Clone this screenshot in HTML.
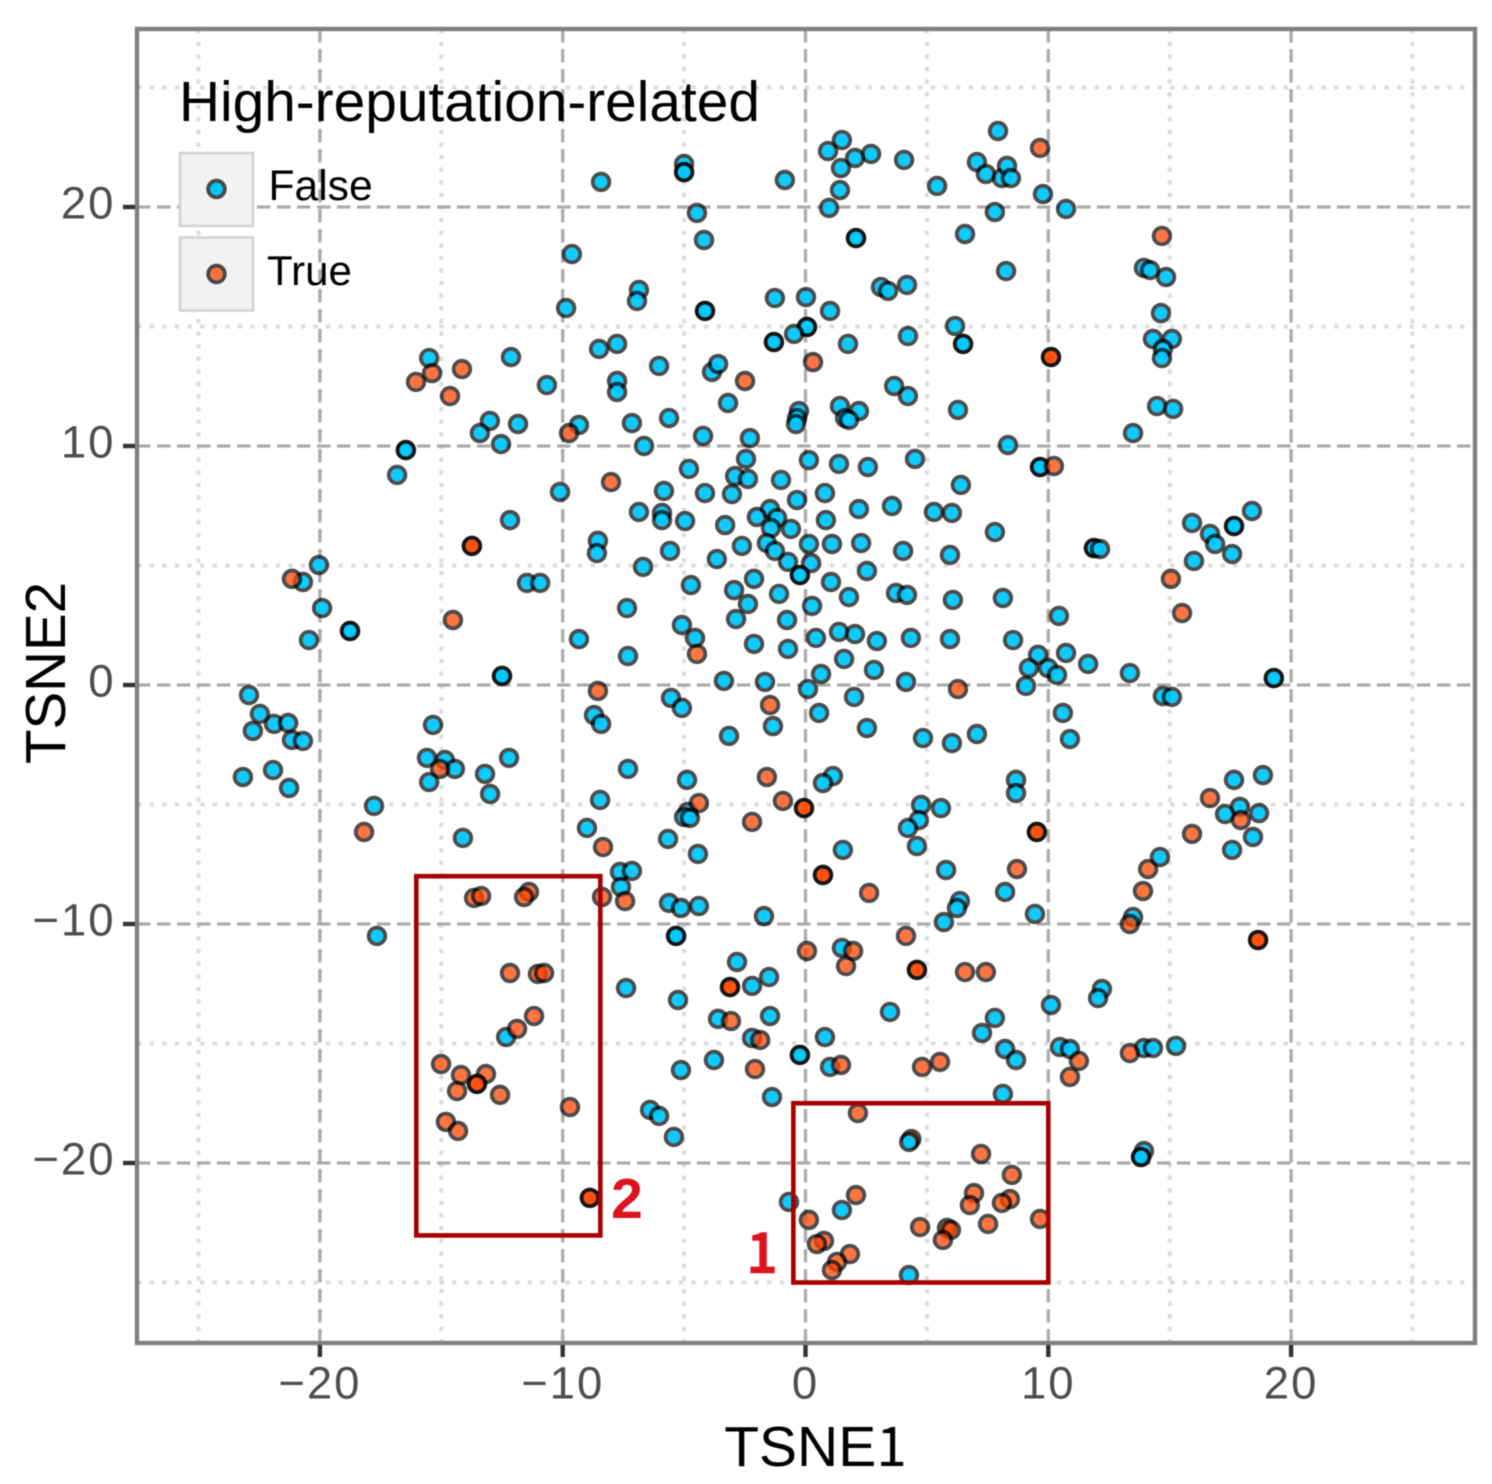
<!DOCTYPE html>
<html lang="en">
<head>
<meta charset="utf-8">
<title>t-SNE scatter: High-reputation-related</title>
<style>
html,body{margin:0;padding:0;background:#fff;}
svg{display:block;filter:blur(0.5px);}
text{font-family:"Liberation Sans","DejaVu Sans",sans-serif;}
</style>
</head>
<body>
<svg id="chart" xmlns="http://www.w3.org/2000/svg" width="1492" height="1484" viewBox="0 0 1492 1484">
  <rect x="0" y="0" width="1492" height="1484" fill="#ffffff"/>
  <g id="grid"></g>
  <g id="legend">
    <text x="179" y="121" font-size="56.800" fill="#000">High-reputation-related</text>
    <rect x="180" y="153" width="73" height="73" fill="#f2f2f2" stroke="#d2d2d2" stroke-width="2.5"/>
    <rect x="180" y="237.500" width="73" height="73" fill="#f2f2f2" stroke="#d2d2d2" stroke-width="2.5"/>
    <circle cx="216.500" cy="189" r="6.500" fill="#00c8ff"/>
    <circle cx="216.500" cy="189" r="8.300" fill="none" stroke="#000" stroke-opacity="0.7" stroke-width="3.8"/>
    <circle cx="216.500" cy="274" r="6.500" fill="#ff4500" fill-opacity="0.75"/>
    <circle cx="216.500" cy="274" r="8.300" fill="none" stroke="#000" stroke-opacity="0.7" stroke-width="3.8"/>
    <text x="268.500" y="200" font-size="42.600" fill="#000">False</text>
    <text x="267" y="285" font-size="42" fill="#000">True</text>
  </g>
  <g id="points"></g>
  <rect x="137" y="29" width="1338" height="1314" fill="none" stroke="#808080" stroke-width="4.4"/>
  <g id="axes"></g>
  <text x="815.500" y="1466" font-size="57" text-anchor="middle" fill="#000">TSNE<tspan style="font-family:'Noto Sans CJK SC',sans-serif" font-size="55">1</tspan></text>
  <text transform="translate(65,673) rotate(-90)" font-size="56.500" text-anchor="middle" fill="#000">TSNE2</text>
  <g id="annotations"></g>
  <text x="762" y="1272" font-size="54" text-anchor="middle" fill="#dd1420" stroke="#dd1420" stroke-width="2.6" style="font-family:'Noto Sans CJK SC',sans-serif;font-weight:400">1</text>
  <text x="627" y="1218" font-size="57" font-weight="700" text-anchor="middle" fill="#dd1420">2</text>
</svg>
<script>
const majorTicks = [-20, -10, 0, 10, 20];
const minorTicks = [-25, -15, -5, 5, 15, 25];
const regionBoxes = [[-0.5, 10, -17.5, -25], [-16.03, -8.45, -8, -23.03]];
const falsePoints = [
[1.50,22.80],[0.93,22.34],[2.04,22.05],[2.70,22.22],[1.46,21.63],[1.42,20.71],[0.97,19.96],[4.06,21.97],[5.42,20.88],[7.93,23.18],
[7.06,21.88],[7.43,21.38],[8.09,21.21],[8.30,21.72],[8.46,21.21],[7.80,19.79],[6.57,18.87],[9.78,20.54],[10.73,19.92],[8.26,17.32],
[-0.85,21.13],[-5.00,21.80],[-5.00,21.46],[-5.00,21.46],[-8.42,21.05],[-4.47,19.75],[-4.18,18.62],[2.08,18.70],[2.08,18.70],[-9.62,18.03],
[-9.86,15.77],[-6.86,16.53],[-6.94,16.07],[-4.14,15.65],[-4.14,15.65],[-1.26,16.19],[0.02,16.23],[1.01,15.65],[3.11,16.65],[3.40,16.49],
[4.18,16.74],[0.06,14.98],[0.06,14.98],[-0.47,14.69],[-1.30,14.35],[-1.30,14.35],[1.75,14.27],[4.22,14.60],[6.16,15.02],[6.49,14.27],[6.49,14.27],
[-8.50,14.06],[-7.76,14.27],[-6.03,13.35],[-12.13,13.72],[-15.50,13.68],[-10.65,12.55],[-7.76,12.72],[-7.76,12.26],[-3.85,13.10],[-3.60,13.43],
[-3.19,11.80],[3.65,12.51],[4.22,12.09],[1.42,11.67],[2.20,11.46],[-0.27,11.46],[-0.35,11.17],[-0.39,10.92],[1.63,11.17],[1.79,11.09],
[6.28,11.51],[-13.00,11.05],[-11.84,10.92],[-13.41,10.54],[-12.54,10.08],[-9.33,10.88],[-7.15,10.96],[-5.62,11.17],[-6.65,10.00],[-4.22,10.42],
[-2.29,10.33],[-2.45,9.46],[-4.80,9.04],[0.14,9.41],[1.38,9.25],[2.57,9.12],[4.51,9.46],[6.40,8.37],[8.34,10.04],[9.66,9.12],[9.66,9.12],
[-16.46,9.83],[-16.46,9.83],[-16.82,8.79],[-10.11,8.08],[-5.83,8.12],[-4.14,8.03],[-2.90,8.74],[-2.37,8.62],[-3.03,7.99],[-1.01,8.58],
[-0.35,7.74],[0.80,8.03],[2.20,7.36],[3.56,7.49],[5.29,7.24],[6.03,7.20],[7.80,6.40],[-12.17,6.90],[-6.86,7.24],[-5.91,7.20],[-5.91,6.90],
[-4.96,6.86],[-3.31,6.69],[0.84,6.90],[-1.46,7.36],[-2.00,7.03],[-1.17,6.99],[-1.42,6.57],[-0.60,6.53],[-5.58,5.61],[-3.65,5.27],
[-2.62,5.82],[-1.59,5.94],[-1.26,5.61],[-0.72,5.15],[0.14,5.90],[1.09,5.90],[2.29,5.94],[4.02,5.61],[0.23,5.10],[-0.23,4.60],[-0.23,4.60],
[1.05,4.31],[2.53,4.77],[-6.69,4.94],[-2.12,4.44],[-4.72,4.18],[-2.94,3.97],[-1.09,3.81],[-2.37,3.39],[-2.86,2.76],[-0.76,2.72],
[0.27,3.31],[1.79,3.68],[3.73,3.85],[4.18,3.77],[-5.09,2.51],[-4.55,1.97],[-2.12,1.72],[-0.72,1.51],[0.43,1.97],[1.38,2.22],
[2.04,2.13],[2.94,1.84],[4.34,1.97],[1.59,1.09],[2.82,0.63],[0.64,0.46],[-3.36,0.17],[-1.67,0.13],[0.10,-0.17],[4.14,0.13],
[2.00,-0.50],[-5.54,-0.54],[-5.09,-0.96],[0.56,-1.17],[-1.34,-1.72],[2.53,-1.80],[-3.15,-2.13],[4.84,-2.22],
[-8.55,6.03],[-8.59,5.52],[-11.47,4.27],[-10.93,4.27],[-20.04,5.02],[-20.70,4.31],[-19.91,3.22],[-20.45,1.88],[-18.76,2.26],[-18.76,2.26],
[-9.33,1.92],[-7.35,3.22],[-7.31,1.21],[-12.50,0.38],[-12.50,0.38],[-22.92,-0.42],[-22.47,-1.21],[-22.76,-1.92],[-21.89,-1.63],[-21.31,-1.59],
[-21.15,-2.30],[-20.70,-2.34],[-21.93,-3.56],[-23.17,-3.85],[-21.27,-4.31],[-17.77,-5.06],[-15.34,-1.67],[-15.59,-3.05],[-14.85,-3.14],[-14.44,-3.51],
[-15.50,-4.06],[-13.20,-3.72],[-12.99,-4.56],[-12.21,-3.05],[-14.11,-6.40],[-17.65,-10.50],[-8.71,-1.26],[-8.42,-1.63],[-7.31,-3.51],[-8.46,-4.81],[-9.00,-5.98],
[10.44,2.89],[8.55,1.88],[5.95,1.92],[5.95,5.44],[6.07,3.56],[8.13,3.64],[11.88,5.73],[11.88,5.73],[12.13,5.69],[9.58,1.26],[9.20,0.71],[9.99,0.71],
[10.36,0.42],[10.73,1.34],[11.64,0.88],[9.08,-0.04],[13.36,0.50],[19.29,0.29],[19.29,0.29],[14.72,-0.46],[15.09,-0.50],[10.60,-1.17],[10.89,-2.26],
[7.06,-2.05],[6.03,-2.43],[8.67,-3.97],[8.67,-4.52],[4.76,-5.02],[4.67,-5.65],[4.22,-5.98],[4.59,-6.74],[5.58,-5.15],[5.79,-7.74],
[6.36,-9.04],[6.24,-9.33],[5.70,-9.92],[8.22,-8.66],[9.45,-9.58],[1.54,-6.90],[1.13,-3.81],[0.72,-4.10],[-4.88,-3.97],[-4.84,-5.31],
[-5.00,-5.52],[-4.76,-5.56],[-5.66,-6.44],[-4.43,-7.07],[-7.64,-7.82],[-7.15,-7.78],[-7.60,-8.45],[-5.62,-9.12],[-5.13,-9.33],[-4.39,-9.25],
[-5.33,-10.50],[-5.33,-10.50],[-1.71,-9.67],[-7.39,-12.68],[-5.25,-13.18],[-2.82,-11.59],[-2.20,-12.59],[-1.50,-12.22],[-1.46,-13.85],[-3.60,-13.97],
[-2.20,-14.77],[-3.77,-15.69],[-5.13,-16.11],[-0.23,-15.48],[-0.23,-15.48],[0.80,-14.73],[1.01,-15.98],[1.50,-11.00],[3.48,-13.68],[10.11,-13.39],
[12.21,-12.72],[12.05,-13.10],[7.80,-13.93],[7.27,-14.56],[8.22,-15.23],[8.67,-15.69],[10.48,-15.15],[10.89,-15.23],[13.94,-15.19],[14.31,-15.19],
[15.26,-15.10],[8.13,-17.11],[-1.38,-17.24],[-6.40,-17.78],[-6.03,-18.03],[-5.42,-18.91],[-0.68,-21.63],[1.50,-21.97],[4.26,-24.69],
[13.94,-19.50],[13.82,-19.75],[13.82,-19.75],[13.49,10.54],[13.94,17.45],[14.19,17.36],[14.85,17.07],[14.64,15.56],[14.31,14.48],[15.09,14.48],
[14.72,14.06],[14.68,13.68],[14.48,11.67],[15.14,11.55],[15.92,6.78],[16.66,6.32],[16.87,5.90],[17.65,6.65],[17.65,6.65],[18.39,7.28],
[17.57,5.48],[16.00,5.19],[17.65,-3.97],[18.84,-3.77],[17.89,-5.10],[17.28,-5.40],[18.68,-5.36],[18.43,-6.36],[17.57,-6.90],[14.60,-7.20],
[13.49,-9.71],[-12.33,-14.73],[4.27,-19.12]
];
const truePoints = [
[9.66,22.47],[14.68,18.79],[0.31,13.51],[10.11,13.72],[10.11,13.72],[-16.04,12.68],[-15.38,13.05],[-14.15,13.22],[-14.64,12.09],[-9.74,10.54],
[-2.49,12.72],[-8.01,8.49],[10.23,9.16],[-13.74,5.82],[-13.74,5.82],[-21.15,4.44],[-14.52,2.72],[15.05,4.44],[15.51,3.01],[-4.47,1.30],
[-8.55,-0.25],[6.28,-0.17],[-1.46,-0.84],[-1.59,-3.85],[-0.93,-4.85],[-0.06,-5.15],[-0.06,-5.15],[-2.20,-5.73],[-4.39,-4.94],[-15.05,-3.51],
[-18.18,-6.15],[-8.34,-6.78],[0.72,-7.95],[0.72,-7.95],[2.62,-8.70],[9.53,-6.15],[9.53,-6.15],[8.71,-7.70],[14.11,-7.70],[13.90,-8.62],[13.36,-10.00],
[17.93,-5.65],[16.66,-4.73],[15.92,-6.23],[18.64,-10.67],[18.64,-10.67],[4.14,-10.50],[0.06,-11.13],[1.96,-11.13],[1.67,-11.76],[4.59,-11.92],[4.59,-11.92],
[6.57,-12.01],[7.43,-12.01],[-3.11,-12.64],[-3.11,-12.64],[-3.07,-14.06],[-1.87,-14.85],[-2.08,-16.07],[1.46,-15.90],[4.80,-15.98],[5.54,-15.77],
[11.26,-15.73],[10.89,-16.40],[13.36,-15.40],[2.16,-17.91],[7.23,-19.62],[8.50,-20.50],[6.94,-21.26],[6.77,-21.76],[8.42,-21.51],
[8.09,-21.67],[7.52,-22.55],[9.66,-22.34],[4.72,-22.68],[5.83,-22.72],[5.99,-22.80],[5.66,-23.22],[0.14,-22.38],[2.08,-21.34],[0.76,-23.26],
[0.47,-23.39],[1.83,-23.81],[1.30,-24.14],[1.09,-24.48],
[-13.65,-8.91],[-13.36,-8.83],[-11.39,-8.66],[-11.59,-8.87],[-12.17,-12.05],[-11.02,-12.09],[-10.77,-12.05],[-11.18,-13.85],[-11.88,-14.39],
[-15.01,-15.86],[-14.19,-16.32],[-13.16,-16.28],[-13.53,-16.69],[-13.53,-16.69],[-14.35,-16.99],[-12.58,-17.15],[-9.70,-17.66],[-14.81,-18.28],[-14.31,-18.66],
[-8.88,-21.46],[-8.88,-21.46],[-8.38,-8.87],[-7.43,-9.04]
];
const hiddenTruePoints = [[4.36,-19.00]];

const NS = 'http://www.w3.org/2000/svg';
const xScale = v => 805.5 + v * 24.28;
const yScale = v => 685 - v * 23.9;
const PANEL = { left: 137, right: 1475, top: 29, bottom: 1343 };

function make(tag, parent) {
  const el = document.createElementNS(NS, tag);
  parent.appendChild(el);
  return el;
}
function setAll(el, props) {
  Object.keys(props).forEach(k => el.setAttribute(k, props[k]));
}
const gridG = document.getElementById('grid');
const axesG = document.getElementById('axes');
const pointsG = document.getElementById('points');
const annG = document.getElementById('annotations');

const MINOR = { stroke: '#dcdcdc', 'stroke-width': 4, 'stroke-dasharray': '4.4 8.200' };
const MAJOR = { stroke: '#ababab', 'stroke-width': 3.3, 'stroke-dasharray': '13.500 6.500' };

minorTicks.forEach(t => {
  const vx = make('line', gridG);
  
  
  setAll(vx, { x1: xScale(t), x2: xScale(t), y1: PANEL.top, y2: PANEL.bottom, ...MINOR });
  const hz = make('line', gridG);
  
  
  setAll(hz, { x1: PANEL.left, x2: PANEL.right, y1: yScale(t), y2: yScale(t), ...MINOR });
});
majorTicks.forEach(t => {
  const vx = make('line', gridG);
  
  
  setAll(vx, { x1: xScale(t), x2: xScale(t), y1: PANEL.top, y2: PANEL.bottom, ...MAJOR });
  const hz = make('line', gridG);
  
  
  setAll(hz, { x1: PANEL.left, x2: PANEL.right, y1: yScale(t), y2: yScale(t), ...MAJOR });

  const label = String(t).replace('-', '\u2212');
  const tx = make('line', axesG);
  
  
  setAll(tx, { x1: xScale(t), x2: xScale(t), y1: PANEL.bottom + 2, y2: PANEL.bottom + 14, stroke: '#333333', 'stroke-width': 4.4 });
  const lx = make('text', axesG);
  
  
  setAll(lx, { x: xScale(t), y: 1398.5, 'font-size': 45.5, 'letter-spacing': 2, 'text-anchor': 'middle', fill: '#4d4d4d' });
  lx.textContent = label;
  const ty = make('line', axesG);
  
  
  setAll(ty, { x1: PANEL.left - 14, x2: PANEL.left - 2, y1: yScale(t), y2: yScale(t), stroke: '#333333', 'stroke-width': 4.4 });
  const ly = make('text', axesG);
  
  
  setAll(ly, { x: 115.5, y: yScale(t) + 11.5, 'font-size': 45.5, 'letter-spacing': 2, 'text-anchor': 'end', fill: '#4d4d4d' });
  ly.textContent = label;
});

function drawFalse(p) {
  const c = make('circle', pointsG);
  
  
  setAll(c, { cx: xScale(p[0]), cy: yScale(p[1]), r: 6.5, fill: '#00c8ff', 'fill-opacity': 0.95 });
  const ring = make('circle', pointsG);
  
  
  setAll(ring, { cx: xScale(p[0]), cy: yScale(p[1]), r: 8.3, fill: 'none', stroke: '#000', 'stroke-opacity': 0.7, 'stroke-width': 3.8 });
}
function drawTrue(p) {
  const c = make('circle', pointsG);
  
  
  setAll(c, { cx: xScale(p[0]), cy: yScale(p[1]), r: 6.5, fill: '#ff4500', 'fill-opacity': 0.75 });
  const ring = make('circle', pointsG);
  
  
  setAll(ring, { cx: xScale(p[0]), cy: yScale(p[1]), r: 8.3, fill: 'none', stroke: '#000', 'stroke-opacity': 0.7, 'stroke-width': 3.8 });
}
hiddenTruePoints.forEach(drawTrue);
falsePoints.forEach(drawFalse);
truePoints.forEach(drawTrue);

regionBoxes.forEach(b => {
  const r = make('rect', annG);
  
  
  setAll(r, { x: xScale(b[0]), y: yScale(b[2]), width: xScale(b[1]) - xScale(b[0]), height: yScale(b[3]) - yScale(b[2]), fill: 'none', stroke: '#a60000', 'stroke-width': 4.6 });
});
</script>
</body>
</html>
